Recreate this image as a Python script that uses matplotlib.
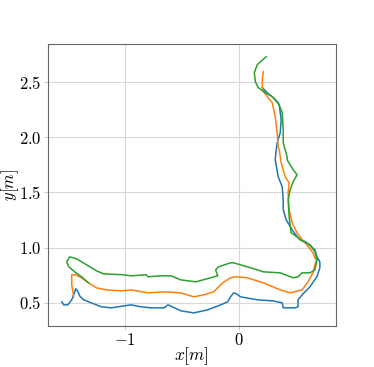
import matplotlib
matplotlib.use('Agg')
import matplotlib.pyplot as plt

plt.rcParams['mathtext.fontset'] = 'cm'
plt.rcParams['font.family'] = 'serif'
plt.rcParams['font.serif'] = ['DejaVu Serif']

# trajectories (metres)
blue_x = [-1.550, -1.533, -1.498, -1.463, -1.437, -1.429, -1.411, -1.394, -1.359, -1.290,
          -1.203, -1.116, -1.003, -0.942, -0.855, -0.768, -0.655, -0.620, -0.507, -0.394,
          -0.272, -0.159, -0.098, -0.072, -0.046, -0.020, 0.015, 0.163, 0.302, 0.380,
          0.389, 0.493, 0.519, 0.519, 0.554, 0.623, 0.684, 0.710, 0.710, 0.684,
          0.667, 0.597, 0.519, 0.467, 0.415, 0.389, 0.389, 0.380, 0.345, 0.319,
          0.328, 0.336, 0.363, 0.371, 0.354, 0.302, 0.249, 0.206]
blue_y = [0.506, 0.479, 0.479, 0.525, 0.597, 0.625, 0.606, 0.561, 0.525, 0.497,
          0.461, 0.452, 0.470, 0.479, 0.461, 0.452, 0.452, 0.479, 0.425, 0.406,
          0.434, 0.479, 0.506, 0.552, 0.588, 0.579, 0.552, 0.525, 0.515, 0.497,
          0.452, 0.452, 0.461, 0.525, 0.570, 0.643, 0.734, 0.816, 0.870, 0.915,
          0.979, 1.043, 1.088, 1.161, 1.252, 1.343, 1.434, 1.552, 1.643, 1.797,
          1.888, 1.950, 2.043, 2.161, 2.297, 2.361, 2.406, 2.452]

orange_x = [-1.446, -1.463, -1.463, -1.429, -1.377, -1.316, -1.246, -1.159, -1.029, -0.942,
            -0.794, -0.655, -0.507, -0.394, -0.307, -0.220, -0.142, -0.072, -0.029, 0.075,
            0.215, 0.363, 0.450, 0.554, 0.606, 0.649, 0.667, 0.684, 0.667, 0.649,
            0.597, 0.554, 0.510, 0.467, 0.441, 0.432, 0.441, 0.406, 0.371, 0.354,
            0.345, 0.336, 0.319, 0.293, 0.215, 0.206, 0.206, 0.215]
orange_y = [0.552, 0.661, 0.752, 0.752, 0.725, 0.679, 0.634, 0.615, 0.606, 0.615,
            0.588, 0.597, 0.588, 0.552, 0.570, 0.597, 0.679, 0.725, 0.734, 0.725,
            0.679, 0.615, 0.588, 0.615, 0.688, 0.770, 0.843, 0.888, 0.906, 0.952,
            1.025, 1.070, 1.134, 1.225, 1.343, 1.497, 1.588, 1.643, 1.770, 1.888,
            1.915, 2.043, 2.188, 2.315, 2.415, 2.452, 2.525, 2.597]

green_x = [-1.316, -1.377, -1.437, -1.489, -1.507, -1.481, -1.420, -1.333, -1.246, -1.185,
           -1.011, -0.942, -0.811, -0.794, -0.681, -0.594, -0.507, -0.377, -0.246, -0.185,
           -0.203, -0.177, -0.072, -0.046, 0.015, 0.163, 0.215, 0.363, 0.476, 0.519,
           0.554, 0.623, 0.667, 0.684, 0.667, 0.623, 0.536, 0.510, 0.458, 0.441,
           0.432, 0.450, 0.476, 0.510, 0.476, 0.423, 0.423, 0.389, 0.389, 0.380,
           0.345, 0.293, 0.232, 0.171, 0.145, 0.136, 0.162, 0.241]
green_y = [0.679, 0.734, 0.779, 0.825, 0.870, 0.915, 0.897, 0.843, 0.788, 0.761,
           0.752, 0.743, 0.752, 0.734, 0.743, 0.743, 0.706, 0.688, 0.725, 0.743,
           0.797, 0.825, 0.861, 0.861, 0.843, 0.797, 0.779, 0.770, 0.725, 0.734,
           0.770, 0.770, 0.797, 0.888, 0.961, 1.025, 1.070, 1.097, 1.134, 1.279,
           1.434, 1.525, 1.597, 1.661, 1.706, 1.797, 1.824, 1.952, 2.070, 2.225,
           2.315, 2.370, 2.406, 2.452, 2.506, 2.588, 2.661, 2.734]

x_ticks = [-1, 0]
y_ticks = [0.5, 1.0, 1.5, 2.0, 2.5]

fig = plt.figure(figsize=(3.74, 3.67), dpi=100)
ax = fig.add_axes([0.128, 0.112, 0.770, 0.768])

ax.plot(blue_x, blue_y, color='C0', lw=1.1)
ax.plot(orange_x, orange_y, color='C1', lw=1.1)
ax.plot(green_x, green_y, color='C2', lw=1.1)

ax.set_xlim(-1.672, 0.85)
ax.set_ylim(0.288, 2.848)
ax.set_xticks(x_ticks)
ax.set_xticklabels([f'${t}$' for t in x_ticks])
ax.set_yticks(y_ticks)
ax.set_yticklabels([f'${t:.1f}$' for t in y_ticks])
ax.tick_params(labelsize=12, color='#cccccc', length=3, pad=1.5)
ax.grid(True, color='#d8d8d8', lw=0.8)
for s in ax.spines.values():
    s.set_color('#666666')
    s.set_linewidth(0.8)

ax.set_xlabel('$x[m]$', fontsize=12.5)
ax.set_ylabel('$y[m]$', fontsize=12)
ax.xaxis.set_label_coords(0.5, -0.07)
ax.yaxis.set_label_coords(-0.094, 0.5)

fig.savefig('out.png', dpi=100)
